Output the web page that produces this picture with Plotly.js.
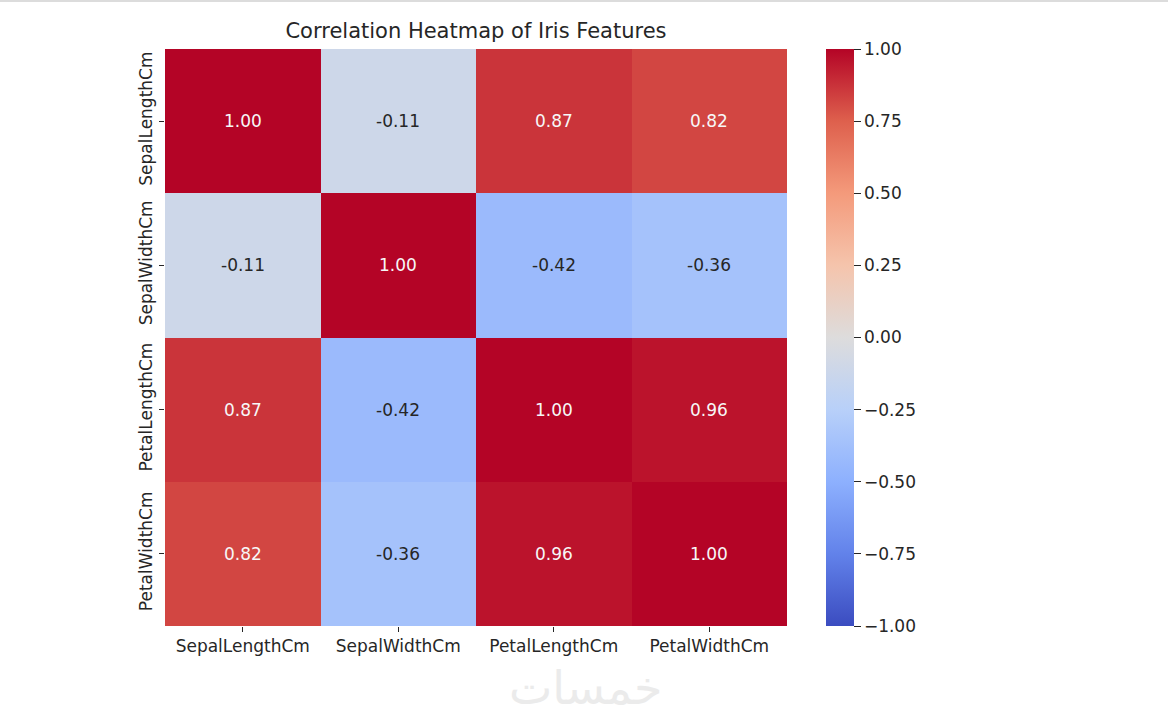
<!DOCTYPE html>
<html>
<head>
<meta charset="utf-8">
<script src="https://cdn.plot.ly/plotly-3.0.1.min.js"></script>
<style>html,body{margin:0;padding:0;background:#fff;}#chart{width:1168px;height:719px;}</style>
</head>
<body>
<div id="chart"></div>
<script>
const features = ["SepalLengthCm", "SepalWidthCm", "PetalLengthCm", "PetalWidthCm"];
const rowSepalLength = [1.00, -0.11, 0.87, 0.82];
const rowSepalWidth = [-0.11, 1.00, -0.42, -0.36];
const rowPetalLength = [0.87, -0.42, 1.00, 0.96];
const rowPetalWidth = [0.82, -0.36, 0.96, 1.00];
const colorbarTicks = [1.00, 0.75, 0.50, 0.25, 0.00, -0.25, -0.50, -0.75, -1.00];
const colorbarTickText = ["1.00", "0.75", "0.50", "0.25", "0.00", "\u22120.25", "\u22120.50", "\u22120.75", "\u22121.00"];

const z = [rowSepalLength, rowSepalWidth, rowPetalLength, rowPetalWidth];

const coolwarm = [
  [0.0, "#3b4cc0"], [0.125, "#6282ea"], [0.25, "#8db0fe"], [0.375, "#b8d0f9"],
  [0.5, "#dddcdc"], [0.625, "#f5c4ac"], [0.75, "#f49a7b"], [0.875, "#de604d"], [1.0, "#b40426"]
];

const W = 1168, H = 719;
const L = 165, R = 787, T = 49, B = 626;
const pw = R - L, ph = B - T;
const font = "DejaVu Sans, sans-serif";
const fs = 17;

const annotations = [];
z.forEach((row, i) => {
  row.forEach((v, j) => {
    annotations.push({
      x: features[j], y: features[i], xref: "x", yref: "y",
      text: v.toFixed(2), showarrow: false,
      font: {family: font, size: fs, color: (v > 0.6 ? "#f7f7f7" : "#262626")}
    });
  });
});
annotations.push({
  xref: "paper", yref: "paper", x: (585 - L) / pw, y: 1 - (688 - T) / ph,
  xanchor: "center", yanchor: "middle",
  text: "خمسات", showarrow: false,
  font: {family: "DejaVu Sans, sans-serif", size: 46, color: "#ebebeb"}
});

const trace = {
  type: "heatmap", x: features, y: features, z: z,
  zmin: -1, zmax: 1, colorscale: coolwarm, xgap: 0, ygap: 0,
  hoverinfo: "skip",
  colorbar: {
    x: (826 - L) / pw, xanchor: "left", xpad: 0, ypad: 0,
    y: 0.5, yanchor: "middle", len: 1, lenmode: "fraction",
    thickness: 28, thicknessmode: "pixels", outlinewidth: 0,
    tickmode: "array", tickvals: colorbarTicks, ticktext: colorbarTickText,
    ticks: "outside", ticklen: 7, tickwidth: 1, tickcolor: "#262626",
    tickfont: {family: font, size: fs, color: "#262626"}
  }
};

const layout = {
  width: W, height: H,
  margin: {l: L, r: W - R, t: T, b: H - B, pad: 0},
  paper_bgcolor: "#ffffff", plot_bgcolor: "#ffffff",
  title: {
    text: "Correlation Heatmap of Iris Features",
    font: {family: font, size: 21, color: "#262626"},
    x: (L + R) / 2 / W, xanchor: "center", y: 1 - 31 / H, yanchor: "middle"
  },
  xaxis: {
    type: "category", showgrid: false, zeroline: false, showline: false,
    ticks: "outside", ticklen: 5, tickwidth: 1, tickcolor: "#262626",
    tickfont: {family: font, size: fs, color: "#262626"}
  },
  yaxis: {
    type: "category", autorange: "reversed", showgrid: false, zeroline: false, showline: false,
    ticks: "outside", ticklen: 5, tickwidth: 1, tickcolor: "#262626", tickangle: -90,
    tickfont: {family: font, size: fs, color: "#262626"}
  },
  shapes: [{
    type: "line", xref: "paper", yref: "paper",
    x0: -L / pw, x1: (W - L) / pw, y0: 1 + (T - 1) / ph, y1: 1 + (T - 1) / ph,
    line: {color: "#dcdcdc", width: 2}
  }],
  annotations: annotations
};

Plotly.newPlot("chart", [trace], layout, {staticPlot: true, displayModeBar: false});
</script>
</body>
</html>
